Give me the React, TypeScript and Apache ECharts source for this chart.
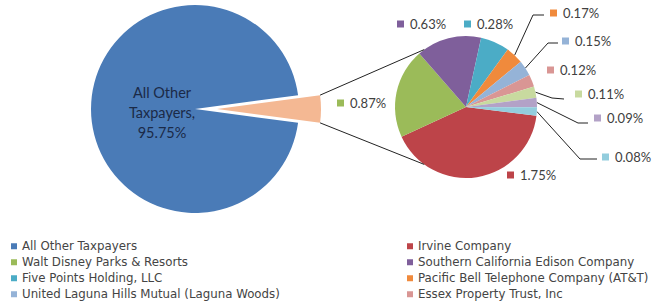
import React, { useEffect, useRef } from 'react';
import * as echarts from 'echarts';

// ---- data ----
const mainName = 'All Other Taxpayers';
const mainValue = 95.75;
const groupName = 'Top Ten Taxpayers';
const subNames = [
  'Irvine Company',
  'Walt Disney Parks & Resorts',
  'Southern California Edison Company',
  'Five Points Holding, LLC',
  'Pacific Bell Telephone Company (AT&T)',
  'United Laguna Hills Mutual (Laguna Woods)',
  'Essex Property Trust, Inc',
  'Taxpayer 9',
  'Taxpayer 10',
  'Taxpayer 11',
];
const subValues = [1.75, 0.87, 0.63, 0.28, 0.17, 0.15, 0.12, 0.11, 0.09, 0.08];
const legendLeft = [
  'All Other Taxpayers',
  'Walt Disney Parks & Resorts',
  'Five Points Holding, LLC',
  'United Laguna Hills Mutual (Laguna Woods)',
];
const legendRight = [
  'Irvine Company',
  'Southern California Edison Company',
  'Pacific Bell Telephone Company (AT&T)',
  'Essex Property Trust, Inc',
];

// ---- styles ----
const mainColor = '#4a7bb7';
const groupColor = '#f4b893';
const subColors = [
  '#bd4449', '#9bbb59', '#7f5f9b', '#4bacc6', '#f08a3c',
  '#95b3d7', '#d99694', '#c8da9f', '#b3a2c7', '#93cddd',
];

// ---- layout ----
const W = 657;
const H = 305;
const C1 = [195, 109];
const R1 = 104;
const OFF = 22;
const C2 = [466, 107];
const R2 = 71;
const SUB_START = -7;
const LABEL_POS: number[][] = [
  [507, 175], [337, 103], [397, 24], [464, 24], [550, 13],
  [562, 41], [547, 70], [575, 94], [594, 118], [602, 157],
];
const LEADERS: Record<number, number[][]> = {
  4: [[533, 15], [544, 15]],
  5: [[548, 43], [558, 43]],
  7: [[552, 98], [564, 99]],
  8: [[578, 123], [588, 123]],
  9: [[580, 159], [597, 159]],
};
const FONT = 'Lato, "Open Sans", sans-serif';
const LEGEND_FONT = '"DejaVu Sans", Verdana, sans-serif';

export default function App() {
  const ref = useRef<HTMLDivElement>(null);
  useEffect(() => {
    if (!ref.current) return;
    const chart = echarts.init(ref.current, undefined, { renderer: 'svg' });
    const groupValue = subValues.reduce((a, b) => a + b, 0);
    const half = (groupValue / (groupValue + mainValue)) * Math.PI; // radians
    const halfDeg = (half * 180) / Math.PI;

    const topCorner = [C1[0] + OFF + R1 * Math.cos(half), C1[1] - R1 * Math.sin(half)];
    const botCorner = [C1[0] + OFF + R1 * Math.cos(half), C1[1] + R1 * Math.sin(half)];
    const a1 = (126 * Math.PI) / 180;
    const a2 = (234 * Math.PI) / 180;
    const topEnd = [C2[0] + R2 * Math.cos(a1), C2[1] - R2 * Math.sin(a1)];
    const botEnd = [C2[0] + R2 * Math.cos(a2), C2[1] - R2 * Math.sin(a2)];

    const rich: any = {
      t: { fontSize: 13, color: '#404040', fontFamily: FONT, padding: [0, 0, 0, 6] },
    };
    subColors.forEach((c, i) => {
      rich['s' + i] = { width: 7, height: 7, backgroundColor: c };
    });

    const legendCommon = {
      orient: 'vertical',
      icon: 'rect',
      itemWidth: 6,
      itemHeight: 6,
      itemGap: 3.5,
      padding: 0,
      height: 80,
      selectedMode: false,
      textStyle: { fontSize: 11.8, color: '#444', fontFamily: LEGEND_FONT, lineHeight: 12.5 },
    };

    chart.setOption({
      animation: false,
      legend: [
        { ...legendCommon, left: 11, top: 240, data: legendLeft },
        { ...legendCommon, left: 407, top: 240, data: legendRight },
      ],
      graphic: [
        {
          type: 'line',
          shape: { x1: topCorner[0], y1: topCorner[1], x2: topEnd[0], y2: topEnd[1] },
          style: { stroke: '#222', lineWidth: 1 },
          z: 10,
        },
        {
          type: 'line',
          shape: { x1: botCorner[0], y1: botCorner[1], x2: botEnd[0], y2: botEnd[1] },
          style: { stroke: '#222', lineWidth: 1 },
          z: 10,
        },
      ],
      series: [
        {
          type: 'pie',
          center: C1,
          radius: R1,
          startAngle: halfDeg,
          selectedMode: 'single',
          selectedOffset: OFF,
          emphasis: { disabled: true },
          label: { show: false },
          labelLine: { show: false },
          labelLayout: (p: any) => (p.dataIndex === 1 ? { dx: 22, dy: 3 } : {}),
          data: [
            {
              name: groupName,
              value: groupValue,
              selected: true,
              itemStyle: { color: groupColor },
            },
            {
              name: mainName,
              value: mainValue,
              itemStyle: { color: mainColor },
              label: {
                show: true,
                position: 'inside',
                formatter: () => 'All Other\nTaxpayers,\n' + mainValue.toFixed(2) + '%',
                fontSize: 14.5,
                lineHeight: 20,
                color: '#1b2a47',
                fontFamily: FONT,
              },
            },
          ],
        },
        {
          type: 'pie',
          center: C2,
          radius: R2,
          startAngle: SUB_START,
          emphasis: { disabled: true },
          label: {
            show: true,
            position: 'outside',
            formatter: (p: any) => `{s${p.dataIndex}|}{t|${p.value.toFixed(2)}%}`,
            rich,
          },
          labelLine: { show: false, length: 5, length2: 5, lineStyle: { color: '#222', width: 1 } },
          labelLayout: (p: any) => {
            const i = p.dataIndex;
            const pos = LABEL_POS[i];
            const res: any = { x: pos[0], y: pos[1], align: 'left', verticalAlign: 'middle' };
            const ld = LEADERS[i];
            if (ld && p.labelLinePoints) {
              res.labelLinePoints = [p.labelLinePoints[0], ld[0], ld[1]];
            }
            return res;
          },
          data: subValues.map((v, i) => ({
            name: subNames[i],
            value: v,
            itemStyle: { color: subColors[i] },
            labelLine: { show: !!LEADERS[i] },
          })),
        },
      ],
    });
    return () => chart.dispose();
  }, []);
  return (
    <div
      ref={ref}
      style={{ position: 'fixed', left: 0, top: 0, width: W, height: H, background: '#fff' }}
    />
  );
}
